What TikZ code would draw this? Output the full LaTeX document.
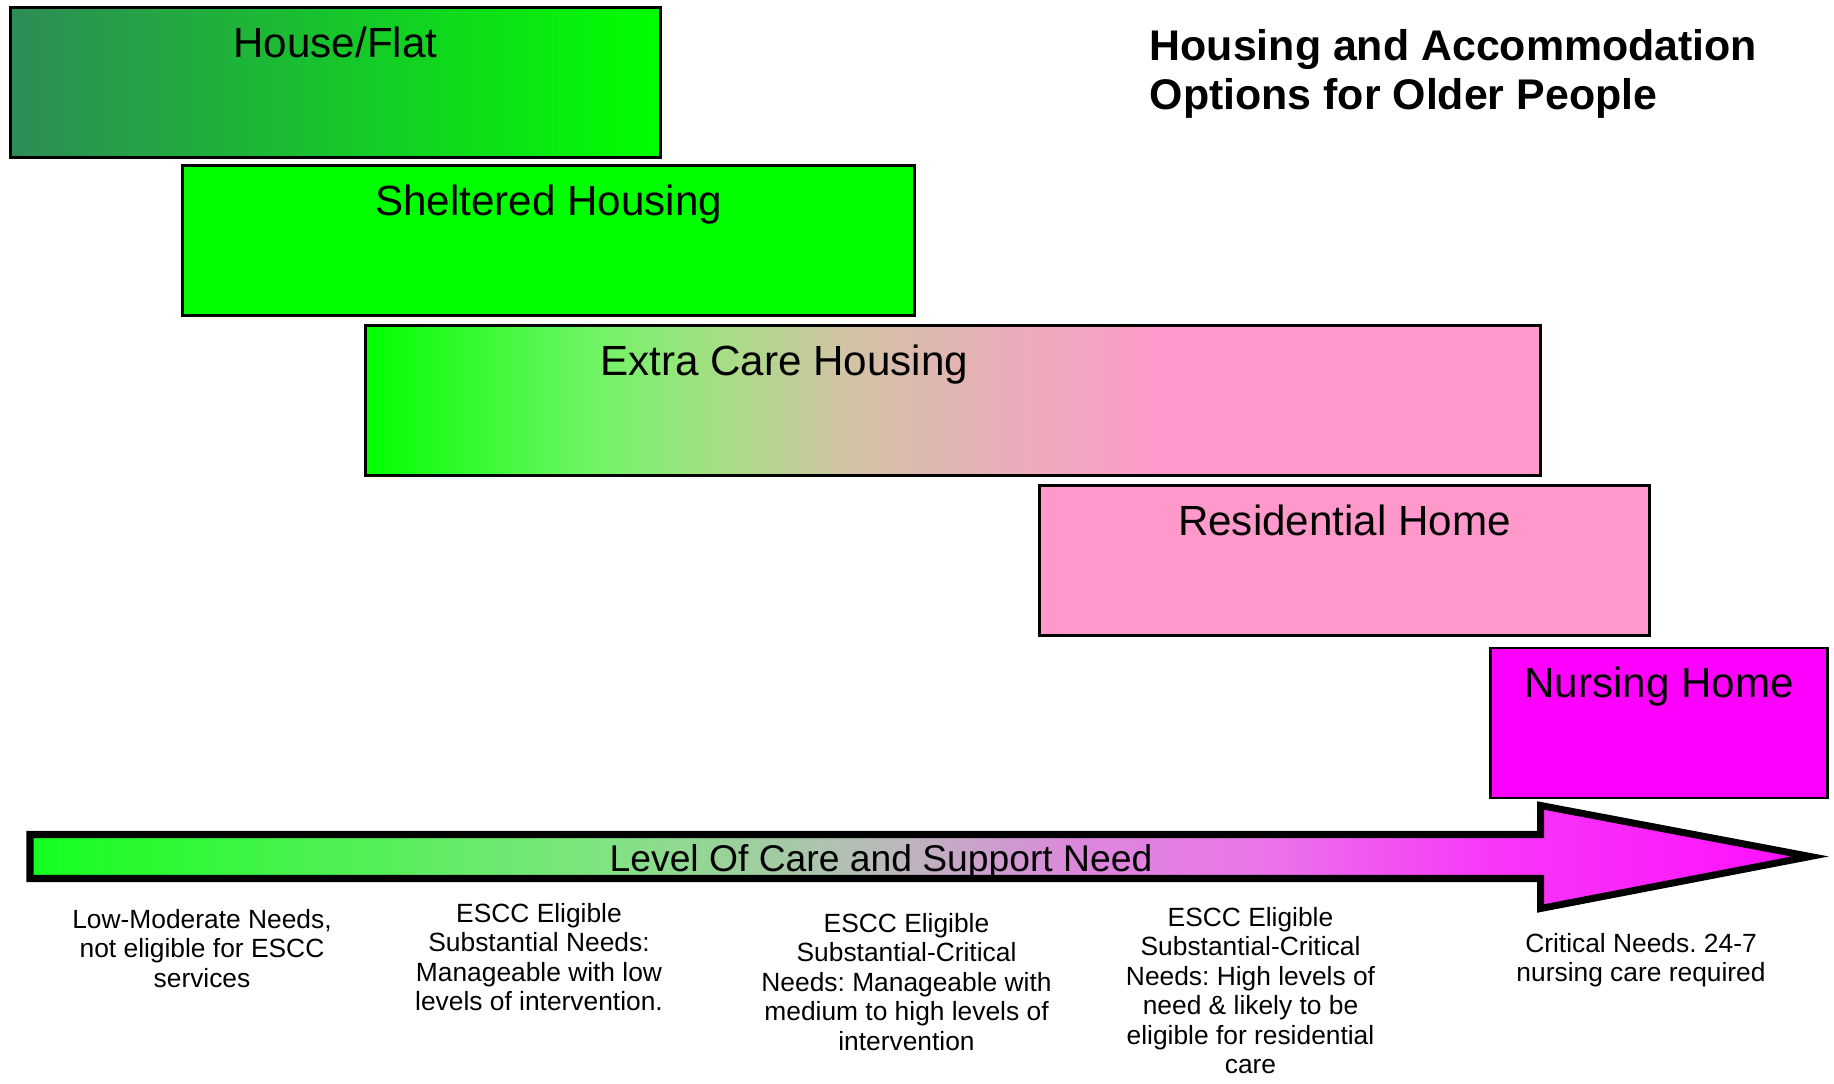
\documentclass[tikz,border=0pt]{standalone}
\usepackage{fontspec}
\setmainfont{Liberation Sans}
\frenchspacing
\usetikzlibrary{
  positioning,
}

\definecolor{housegreen}{RGB}{46,139,87}
\definecolor{optiongreen}{RGB}{0,255,0}
\definecolor{carepink}{RGB}{255,153,204}
\definecolor{nursemagenta}{RGB}{255,0,255}
\definecolor{extralight}{RGB}{110,245,100}
\definecolor{extrapale}{RGB}{160,225,130}
\definecolor{extratan}{RGB}{210,195,165}
\definecolor{scalegreen}{RGB}{20,255,30}
\definecolor{scalelight}{RGB}{128,228,128}
\definecolor{scalegrey}{RGB}{186,186,186}
\definecolor{scaleorchid}{RGB}{220,135,220}
\definecolor{scaleviolet}{RGB}{233,118,233}
\definecolor{scalepink}{RGB}{248,55,248}
\definecolor{scalemagenta}{RGB}{255,15,255}

\pgfdeclarehorizontalshading{extracare}{100bp}{
  color(0bp)=(optiongreen); color(25bp)=(optiongreen);
  color(34.5bp)=(extralight); color(39.5bp)=(extrapale);
  color(45.5bp)=(extratan); color(59bp)=(carepink);
  color(75bp)=(carepink); color(100bp)=(carepink)}
\pgfdeclarehorizontalshading{careneed}{100bp}{
  color(0bp)=(scalegreen); color(25bp)=(scalegreen);
  color(41bp)=(scalelight); color(49bp)=(scalegrey);
  color(54.5bp)=(scaleorchid); color(59.5bp)=(scaleviolet);
  color(66bp)=(scalepink);
  color(75bp)=(scalemagenta); color(100bp)=(scalemagenta)}

\begin{document}
\begin{tikzpicture}[
  optionbox/.style={draw=black, line width=0.7pt, minimum height=1.50cm, inner sep=0pt},
  boxlabel/.style={anchor=base, font=\fontsize{12}{14}\selectfont},
  needlabel/.style={anchor=north, inner sep=0pt, align=center,
    font=\fontsize{7.5}{8.4}\selectfont},
]
\useasboundingbox (0,0) rectangle (18.34,10.83);

% accommodation options, from least to most care
\node[optionbox, minimum width=6.50cm, left color=housegreen, right color=optiongreen] (house) at (3.355,10.005) {};
\node[optionbox, minimum width=7.32cm, fill=optiongreen] (sheltered) at (5.485,8.425) {};
\node[optionbox, minimum width=11.75cm, shade, shading=extracare] (extra) at (9.53,6.825) {};
\node[optionbox, minimum width=6.10cm, fill=carepink] (residential) at (13.445,5.225) {};
\node[optionbox, minimum width=3.37cm, fill=nursemagenta] (nursing) at (16.59,3.60) {};

\node[boxlabel] (houselabel) at ([yshift=-0.51cm]house.north) {House/Flat};
\node[boxlabel] (shelteredlabel) at ([yshift=-0.51cm]sheltered.north) {Sheltered Housing};
\node[boxlabel] (extralabel) at ([xshift=4.20cm,yshift=-0.51cm]extra.north west) {Extra Care Housing};
\node[boxlabel] (residentiallabel) at ([yshift=-0.51cm]residential.north) {Residential Home};
\node[boxlabel] (nursinglabel) at ([yshift=-0.51cm]nursing.north) {Nursing Home};

\node[anchor=north west, inner sep=0pt, align=left,
  font=\bfseries\fontsize{12.2}{13.9}\selectfont] (title) at (11.49,10.54)
  {Housing and Accommodation\\Options for Older People};

% level of need arrow
\shadedraw[line width=2pt, shading=careneed]
  (0.30,2.485) -- (15.405,2.485) -- (15.405,2.775) -- (18.10,2.265)
  -- (15.405,1.745) -- (15.405,2.045) -- (0.30,2.045) -- cycle;
\node[anchor=base, font=\fontsize{10.6}{12}\selectfont] (scale) at (8.81,2.11)
  {Level Of Care and Support Need};

% needs under the arrow
\node[needlabel] (lowneed) at (2.02,1.745)
  {Low-Moderate Needs,\\not eligible for ESCC\\services};
\node[needlabel] (subneed) at (5.39,1.805)
  {ESCC Eligible\\Substantial Needs:\\Manageable with low\\levels of intervention.};
\node[needlabel] (subcritneed) at (9.065,1.705)
  {ESCC Eligible\\Substantial-Critical\\Needs: Manageable with\\medium to high levels of\\intervention};
\node[needlabel] (resneed) at (12.505,1.765)
  {ESCC Eligible\\Substantial-Critical\\Needs: High levels of\\need \& likely to be\\eligible for residential\\care};
\node[needlabel] (critneed) at (16.41,1.505)
  {Critical Needs. 24-7\\nursing care required};
\end{tikzpicture}
\end{document}
